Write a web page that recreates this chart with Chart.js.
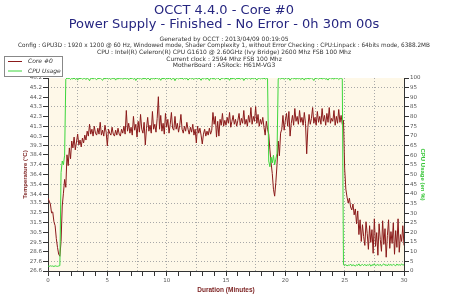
<!DOCTYPE html>
<html><head><meta charset="utf-8">
<script src="https://cdn.jsdelivr.net/npm/chart.js@4.4.1/dist/chart.umd.min.js"></script>
<style>html,body{margin:0;padding:0;background:#fff}#wrap{width:450px;height:300px}</style>
</head><body><div id="wrap"><canvas id="c" width="450" height="300"></canvas></div>
<script>
const titleLines = ['OCCT 4.4.0 - Core #0', 'Power Supply - Finished - No Error - 0h 30m 00s'];
const infoLines = [
  'Generated by OCCT : 2013/04/09 00:19:05',
  'Config : GPU3D : 1920 x 1200 @ 60 Hz, Windowed mode, Shader Complexity 1, without Error Checking : CPU:Linpack : 64bits mode, 6388.2MB',
  'CPU : Intel(R) Celeron(R) CPU G1610 @ 2.60GHz (Ivy Bridge) 2600 Mhz FSB 100 Mhz',
  'Current clock : 2594 Mhz FSB 100 Mhz',
  'MotherBoard : ASRock: H61M-VG3'
];
const seriesNames = ['Core #0', 'CPU Usage'];
const xAxisTitle = 'Duration (Minutes)';
const leftAxisTitle = 'Temperature (°C)';
const rightAxisTitle = 'CPU Usage (en %)';
const tempTickLabels = ['26.6','27.6','28.6','29.5','30.5','31.5','32.5','33.5','34.4','35.4','36.4','37.4','38.4','39.3','40.3','41.3','42.3','43.3','44.2','45.2','46.2'];
const sampleStepMinutes = 0.1;
// one value every 0.1 minute, 0.0 .. 30.0
const core0Temps = [
34.0,33.7,33.4,32.5,32.6,31.6,31.2,29.9,29.0,28.3,
28.1,29.6,33.2,34.5,35.9,35.1,38.4,37.3,39.1,38.0,
39.8,39.1,40.2,38.9,39.7,40.5,39.4,39.9,39.2,40.1,
39.6,40.4,39.9,40.8,40.3,41.5,40.5,41.0,40.3,41.3,
40.6,40.4,41.1,40.5,41.7,40.4,40.9,40.3,41.4,40.7,
39.3,41.0,40.6,40.4,41.2,40.5,40.3,40.9,40.4,41.1,
40.5,40.3,41.0,40.6,41.3,40.5,42.9,40.8,41.6,40.6,
41.2,40.4,42.3,40.9,41.5,40.2,41.8,40.7,42.5,41.0,
40.6,41.7,39.4,41.1,42.2,40.8,41.4,40.6,42.8,41.0,
41.5,40.7,42.1,44.3,41.0,42.4,40.8,41.6,40.5,42.6,
41.2,42.0,40.6,41.5,42.7,41.1,40.9,42.3,41.0,41.6,
40.7,41.4,42.5,41.0,40.6,41.3,40.8,41.7,41.0,40.5,
41.2,40.7,41.5,40.4,41.0,39.6,41.3,40.6,41.1,40.4,
39.5,40.5,41.0,40.3,40.8,40.4,41.1,40.5,40.9,42.7,
41.5,42.3,40.2,41.8,40.3,42.0,41.4,42.6,41.3,41.9,
41.4,42.2,41.6,42.7,41.2,41.8,42.4,41.5,42.0,41.3,
41.9,42.6,41.4,42.1,41.6,42.9,41.5,42.0,41.3,42.4,
41.7,43.2,41.5,42.3,41.8,43.3,41.6,42.5,41.3,42.0,
41.5,42.2,41.2,40.4,41.8,41.0,40.5,38.9,37.6,36.5,
34.9,34.2,35.6,37.4,39.8,38.3,40.6,41.0,42.4,40.9,
41.9,42.6,41.3,42.8,40.3,41.6,42.4,41.4,43.1,41.8,
42.3,41.5,42.9,41.7,42.2,41.4,42.7,41.6,38.5,41.2,
42.5,41.5,42.1,43.2,41.6,42.2,41.4,42.8,41.7,42.3,
41.5,43.1,41.8,42.4,41.4,42.6,41.7,43.2,41.6,42.1,
41.8,42.9,41.4,42.3,41.6,43.0,41.7,42.4,41.5,41.9,
37.0,34.9,34.1,33.5,34.0,33.1,32.8,33.4,32.3,32.9,
31.4,32.7,30.3,31.8,29.6,31.3,30.1,29.2,31.6,30.4,
28.8,31.2,29.5,30.8,28.4,31.9,29.1,30.5,28.2,31.4,
29.8,28.6,31.7,29.3,30.9,28.0,30.2,31.8,28.9,30.6,
29.4,31.5,28.3,30.7,29.0,31.9,28.5,30.3,29.6,31.2,
29.2
];
const cpuUsage = [
2.6,2.4,2.7,2.5,2.6,2.3,2.7,2.5,2.4,2.6,
2.8,51,57,55,60,99.4,100,99.7,99.9,99.2,
99.8,99.5,100,99.3,99.8,98.9,99.9,99.6,100,99.4,
99.7,99.9,99.2,100,99.6,98.6,99.8,99.9,99.5,100,
99.6,99.1,99.9,99.7,100,99.4,98.8,99.9,99.6,99.8,
100,99.5,99.8,99.2,99.9,99.7,100,98.9,99.8,99.5,
99.9,99.6,100,99.3,99.8,99.9,99.5,100,99.1,99.8,
99.7,100,99.4,99.9,98.7,99.8,100,99.6,99.9,99.3,
99.8,99.6,100,99.2,99.9,99.7,98.9,100,99.6,99.8,
99.5,99.9,100,99.4,99.8,98.8,99.9,99.6,100,99.3,
99.8,99.6,99.9,100,99.1,99.7,99.9,98.6,99.8,100,
99.5,99.9,99.7,100,99.3,99.8,99.6,99.9,98.9,99.7,
100,99.6,99.8,99.2,99.9,100,99.5,99.8,99.7,98.8,
99.9,99.6,100,99.4,99.8,99.7,98.7,99.9,100,99.5,
99.8,99.3,99.9,100,99.6,98.9,99.8,99.7,100,99.4,
99.9,99.6,99.8,98.8,100,99.5,99.9,99.7,99.2,100,
99.6,99.9,99.4,99.8,100,98.7,99.7,99.9,99.5,100,
99.8,99.3,100,99.6,99.9,99.7,98.9,99.8,100,99.5,
99.9,99.6,100,99.4,99.8,99.7,57,54,59,56,
60,55,58,61,99.6,100,99.5,99.8,99.9,99.3,
99.8,100,99.5,99.9,98.8,99.7,100,99.6,99.8,99.4,
99.9,99.6,100,99.2,99.8,99.7,98.9,100,99.6,99.9,
99.5,99.8,100,99.6,98.7,99.9,99.7,100,99.4,99.8,
99.9,99.5,99.8,100,99.3,99.7,98.9,99.9,100,99.6,
99.8,99.4,100,99.7,99.9,99.2,99.8,100,99.6,3.2,
2.8,3.4,2.6,3.1,2.9,3.6,2.7,3.2,3.0,2.5,
3.3,2.9,3.7,2.6,3.1,3.4,2.8,3.5,2.7,3.2,
3.0,3.6,2.5,3.3,2.9,3.8,2.7,3.1,3.4,2.8,
3.5,2.6,3.2,3.7,2.9,3.3,2.6,3.6,3.0,3.4,
2.8,3.5,3.1,2.7,3.6,3.0,3.3,2.9,3.7,3.1,
3.2
];

const toPoints = arr => arr.map((v, i) => ({ x: Math.round(i * sampleStepMinutes * 10) / 10, y: v }));
const RED = '#8B1A1A', GREEN = '#3CD63C', AXIS = '#333333', GRID = '#a8a8a8';
const tickFont = { family: 'DejaVu Sans', size: 5.5 };
const clear = 'rgba(0,0,0,0)';

const plotBg = {
  id: 'plotBg',
  beforeDraw(chart) {
    const a = chart.chartArea, c = chart.ctx;
    c.save(); c.fillStyle = '#FEF8E8'; c.fillRect(a.left, a.top, a.right - a.left, a.bottom - a.top); c.restore();
  }
};
const boxLegend = {
  id: 'boxLegend',
  afterDraw(chart) {
    const c = chart.ctx;
    c.save();
    c.fillStyle = '#fff'; c.fillRect(4.5, 56.5, 58, 20);
    c.strokeStyle = '#888'; c.lineWidth = 1; c.strokeRect(4.5, 56.5, 58, 20);
    c.font = 'italic 6px "DejaVu Sans"'; c.textBaseline = 'middle';
    chart.data.datasets.forEach((ds, i) => {
      const y = 61.5 + i * 9.5;
      c.strokeStyle = ds.borderColor; c.beginPath(); c.moveTo(8, y); c.lineTo(22, y); c.stroke();
      c.fillStyle = '#333'; c.fillText(ds.label, 28, y);
    });
    c.restore();
  }
};

new Chart(document.getElementById('c'), {
  type: 'line',
  data: {
    datasets: [
      { label: seriesNames[0], data: toPoints(core0Temps), yAxisID: 'y', borderColor: RED, backgroundColor: RED, borderWidth: 1, pointRadius: 0, tension: 0, order: 1 },
      { label: seriesNames[1], data: toPoints(cpuUsage), yAxisID: 'y1', borderColor: GREEN, backgroundColor: GREEN, borderWidth: 1, pointRadius: 0, tension: 0, order: 0 }
    ]
  },
  options: {
    responsive: false, animation: false, devicePixelRatio: 1,
    layout: { padding: { left: 18, right: 20, top: 0, bottom: 4 } },
    plugins: {
      legend: { display: false }, tooltip: { enabled: false },
      title: { display: true, text: titleLines, color: '#262680', font: { family: 'DejaVu Sans', size: 13, weight: 'normal', lineHeight: '14px' }, padding: { top: 4, bottom: 0 } },
      subtitle: { display: true, text: infoLines, color: '#333', font: { family: 'DejaVu Sans', size: 6, lineHeight: '6.7px' }, padding: { top: 3.7, bottom: 8.8 } }
    },
    scales: {
      x: {
        type: 'linear', min: 0, max: 30,
        afterFit(s) { s.height = 25; },
        ticks: { stepSize: 0.5, maxTicksLimit: 100, autoSkip: false, maxRotation: 0, padding: 1, font: tickFont, color: '#555',
          callback: v => (v % 5 === 0 ? String(v) : '') },
        grid: {
          color: ctx => (ctx.tick && ctx.tick.value > 0 && ctx.tick.value < 30 && ctx.tick.value % 2.5 === 0) ? GRID : clear,
          tickColor: ctx => (ctx.tick && Number.isInteger(ctx.tick.value)) ? AXIS : clear,
          tickLength: 5
        },
        border: { color: AXIS, dash: [1, 2] },
        title: { display: true, text: xAxisTitle, color: '#7A1E1E', font: { family: 'Liberation Sans', size: 6.5, weight: 'bold' }, padding: { top: 3, bottom: 2 } }
      },
      y: {
        type: 'linear', position: 'left', min: 26.6, max: 46.2,
        afterFit(s) { s.width = 30; },
        afterBuildTicks(s) { s.ticks = tempTickLabels.map(l => ({ value: parseFloat(l) })); },
        ticks: { font: tickFont, color: '#555', padding: 1, callback: (v, i) => tempTickLabels[i] },
        grid: { drawOnChartArea: false, tickColor: AXIS, tickLength: 5 },
        border: { color: AXIS },
        title: { display: true, text: leftAxisTitle, color: '#7A1E1E', font: { family: 'Liberation Sans', size: 6, weight: 'bold' }, padding: { top: 4, bottom: 2 } }
      },
      y1: {
        type: 'linear', position: 'right', min: 0, max: 100,
        afterFit(s) { s.width = 26; },
        ticks: { stepSize: 5, maxTicksLimit: 50, font: tickFont, color: '#555', padding: 1 },
        grid: {
          color: ctx => (ctx.tick && ctx.tick.value % 10 === 5) ? GRID : clear,
          tickColor: AXIS, tickLength: 5
        },
        border: { color: AXIS, dash: [1, 2] },
        title: { display: true, text: rightAxisTitle, color: '#33C433', font: { family: 'Liberation Sans', size: 6, weight: 'bold' }, padding: { top: 4, bottom: 2 } }
      }
    }
  },
  plugins: [plotBg, boxLegend]
});
</script></body></html>
